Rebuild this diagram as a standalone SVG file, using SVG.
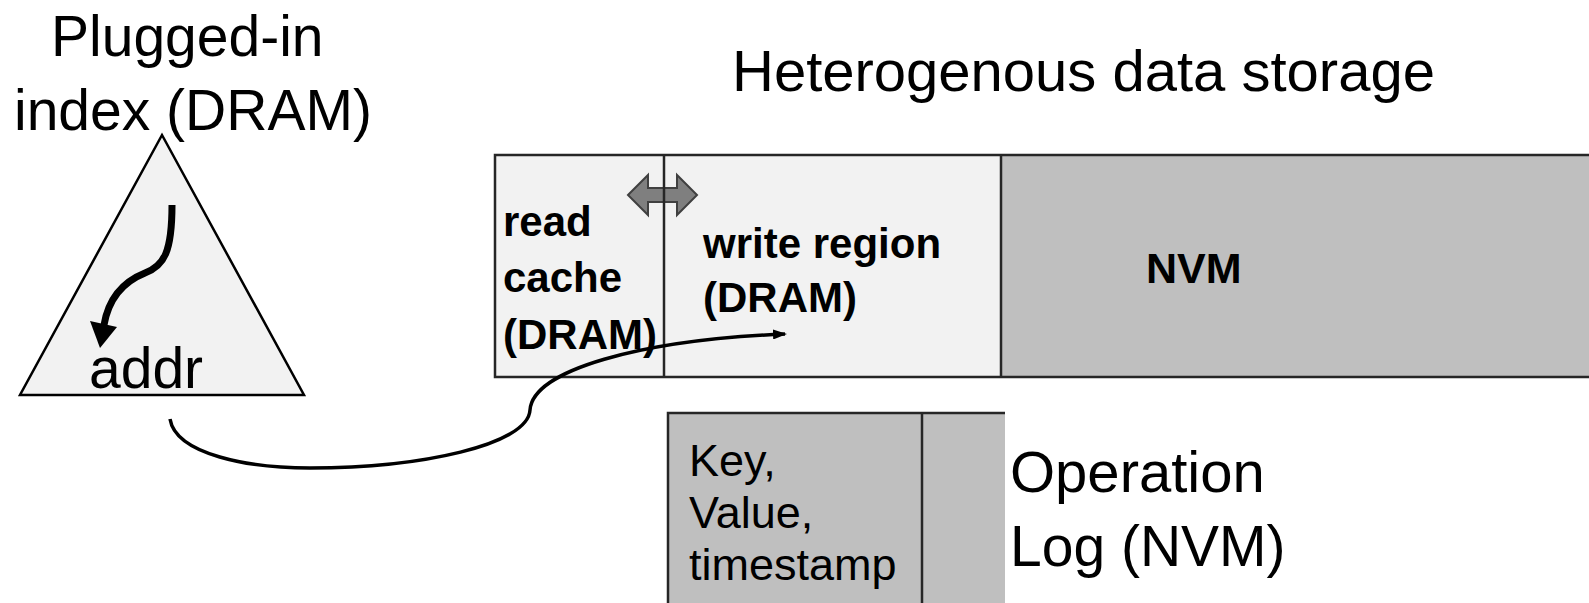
<svg xmlns="http://www.w3.org/2000/svg" width="1589" height="603" viewBox="0 0 1589 603">
<style>
.big{font-family:"Liberation Sans",Arial,sans-serif;font-size:57px;fill:#000}
.title{font-size:58px}
.bold{font-family:"Liberation Sans",Arial,sans-serif;font-size:42px;font-weight:bold;fill:#000}
.nvm{font-size:43px}
.reg{font-family:"Liberation Sans",Arial,sans-serif;font-size:45px;fill:#000}
.light{fill:#f2f2f2}
.gray{fill:#bfbfbf}
.edge{stroke:#262626;stroke-width:2.5;fill:none}
</style>
<defs>
<marker id="ah" markerWidth="14" markerHeight="10" refX="12" refY="5" orient="auto" markerUnits="userSpaceOnUse">
<path d="M0,0 L14,5 L0,10 z" fill="#000"/>
</marker>
</defs>
<rect width="1589" height="603" fill="#fff"/>

<g id="index">
<text class="big" x="51" y="56">Plugged-in</text>
<text class="big" x="14" y="130">index (DRAM)</text>
<polygon points="162,135 20,395 304,395" fill="#f2f2f2" stroke="#000" stroke-width="2.5"/>
<path d="M172,205 C172,252 164,266 145,273 C125,281 109,296 104,325" fill="none" stroke="#000" stroke-width="7"/>
<polygon points="90,321 117,327 100,348" fill="#000"/>
<text class="big" x="89" y="388">addr</text>
</g>

<g id="storage">
<text class="big title" x="732" y="91">Heterogenous data storage</text>
<rect x="495" y="155" width="169" height="222" class="light"/>
<rect x="664" y="155" width="337" height="222" class="light"/>
<rect x="1001" y="155" width="590" height="222" class="gray"/>
<polygon points="628,195 648,175 648,188 677,188 677,175 697,195 677,215 677,202 648,202 648,215" fill="#7f7f7f" stroke="#404040" stroke-width="2"/>
<path class="edge" d="M1591,155 H495 V377 H1591"/>
<line class="edge" x1="664" y1="155" x2="664" y2="377"/>
<line class="edge" x1="1001" y1="155" x2="1001" y2="377"/>
<text class="bold" x="503" y="236">read</text>
<text class="bold" x="503" y="292">cache</text>
<text class="bold" x="503" y="349">(DRAM)</text>
<text class="bold" x="703" y="258">write region</text>
<text class="bold" x="703" y="312">(DRAM)</text>
<text class="bold nvm" x="1146" y="283">NVM</text>
</g>

<g id="oplog">
<rect x="668" y="413" width="337" height="192" class="gray"/>
<path class="edge" d="M668,605 V413 H1005"/>
<line class="edge" x1="922" y1="413" x2="922" y2="605"/>
<text class="reg" x="689" y="476">Key,</text>
<text class="reg" x="689" y="528">Value,</text>
<text class="reg" x="689" y="580">timestamp</text>
<text class="big title" x="1010" y="492">Operation</text>
<text class="big" x="1010" y="566">Log (NVM)</text>
</g>

<g id="connectors">
<path d="M170,419 C176,455 250,468 310,468 C420,468 528,445 530,410 C533,370 640,340 785,334" fill="none" stroke="#000" stroke-width="3.5" marker-end="url(#ah)"/>
</g>
</svg>
